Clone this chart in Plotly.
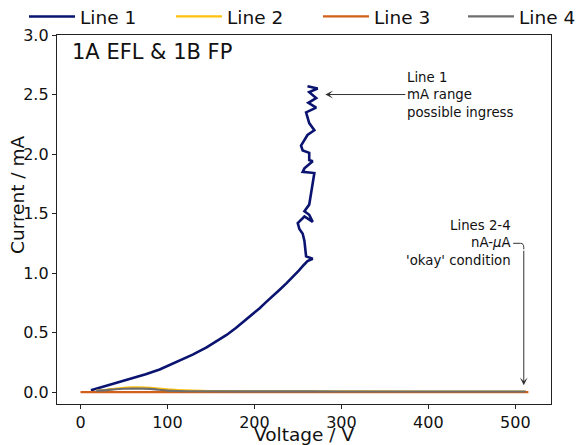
import plotly.graph_objects as go

# ---- data ----
line1_v = [12, 30, 53, 75, 91, 110, 129, 145, 156, 168, 179, 190, 198, 206, 214, 222, 229, 237, 244, 251, 257, 261,
           267, 259.4, 257.5, 255.5, 251.7, 249.8, 257.5, 267, 263, 257.5, 263, 265, 267, 268.9, 255.5,
           257.5, 267, 263, 263, 255.5, 253.6, 261, 268.9, 263, 259.4, 271, 262, 271, 263, 272.7, 261]
line1_i = [0.015, 0.052, 0.10, 0.15, 0.19, 0.25, 0.315, 0.375, 0.425, 0.48, 0.54, 0.605, 0.655, 0.705, 0.76, 0.81, 0.86, 0.915, 0.965, 1.02, 1.07, 1.10,
           1.12, 1.14, 1.27, 1.33, 1.37, 1.42, 1.475, 1.43, 1.49, 1.52, 1.575, 1.68, 1.77, 1.84, 1.85,
           1.88, 1.94, 1.95, 2.01, 2.03, 2.07, 2.16, 2.20, 2.26, 2.35, 2.39, 2.43, 2.47, 2.52, 2.55, 2.57]

line2_v = [18, 30, 45, 60, 75, 90, 105, 120, 140, 160, 250, 400, 512]
line2_i = [0.012, 0.02, 0.032, 0.039, 0.038, 0.03, 0.02, 0.014, 0.01, 0.008, 0.006, 0.005, 0.005]

line3_v = [0, 100, 200, 300, 400, 515]
line3_i = [0.0, 0.0, 0.0, 0.0, 0.0, 0.0]

line4_v = [18, 30, 40, 50, 60, 70, 80, 90, 100, 115, 130, 200, 300, 400, 512]
line4_i = [0.012, 0.016, 0.024, 0.028, 0.029, 0.029, 0.027, 0.02, 0.013, 0.009, 0.007, 0.006, 0.005, 0.005, 0.005]

x_ticks = [0, 100, 200, 300, 400, 500]
y_ticks = [0.0, 0.5, 1.0, 1.5, 2.0, 2.5, 3.0]

FONT = "DejaVu Sans"
C1, C2, C3, C4 = "#0a1470", "#ffc20e", "#d2601a", "#6e6e6e"

fig = go.Figure()
fig.add_trace(go.Scatter(x=line1_v, y=line1_i, mode="lines", name="Line 1", legend="legend",
                         line=dict(color=C1, width=2.6)))
fig.add_trace(go.Scatter(x=line2_v, y=line2_i, mode="lines", name="Line 2", legend="legend2",
                         line=dict(color=C2, width=2.2, shape="spline")))
fig.add_trace(go.Scatter(x=line3_v, y=line3_i, mode="lines", name="Line 3", legend="legend3",
                         line=dict(color=C3, width=2.2)))
fig.add_trace(go.Scatter(x=line4_v, y=line4_i, mode="lines", name="Line 4", legend="legend4",
                         line=dict(color=C4, width=2.2, shape="spline")))

axis_common = dict(showgrid=False, zeroline=False, showline=True, mirror=True, linecolor="#222222", linewidth=1.3,
                   ticks="outside", ticklen=4, tickwidth=1.2, tickcolor="#222222", automargin=False,
                   tickfont=dict(family=FONT, size=16, color="#111111"))

W, H = 580, 445
L, T = 57, 35
PW, PH = 494, 369
R, B = W - L - PW, H - T - PH


def leg(px_left):
    return dict(orientation="h", xref="container", x=px_left / W, xanchor="left", y=1.049, yanchor="middle",
                font=dict(family=FONT, size=18.5, color="#111111"), itemwidth=46,
                bgcolor="rgba(0,0,0,0)", borderwidth=0, itemclick=False, itemdoubleclick=False)


fig.update_layout(
    width=W, height=H,
    margin=dict(l=L, r=R, t=T, b=B, autoexpand=False),
    paper_bgcolor="white", plot_bgcolor="white",
    font=dict(family=FONT, color="#111111"),
    showlegend=True,
    legend=leg(24), legend2=leg(171), legend3=leg(318), legend4=leg(463),
    xaxis=dict(range=[-27, 541], tickvals=x_ticks, ticktext=[str(v) for v in x_ticks], **axis_common),
    yaxis=dict(range=[-0.1, 3.0], tickvals=y_ticks, ticktext=["%.1f" % v for v in y_ticks], **axis_common),
)

# axis titles
fig.add_annotation(xref="paper", yref="paper", x=0.5, y=0, yshift=-30, xanchor="center", yanchor="middle",
                   text="Voltage / V", showarrow=False, font=dict(family=FONT, size=18.5, color="#111111"))
fig.add_annotation(xref="paper", yref="paper", x=0, xshift=-40, y=1 - (195 - T) / PH, xanchor="center",
                   yanchor="middle", textangle=-90,
                   text="Current / mA", showarrow=False, font=dict(family=FONT, size=18.5, color="#111111"))

fig.add_annotation(xref="paper", yref="paper", x=0.026, y=0.954, xanchor="left", yanchor="middle",
                   text="1A EFL &amp; 1B FP", showarrow=False, font=dict(family=FONT, size=21, color="#111111"))

fig.add_annotation(x=281.5, y=2.5, xref="x", yref="y", axref="x", ayref="y", ax=373.5, ay=2.5,
                   xanchor="left", yanchor="middle", align="left",
                   text="Line 1<br>mA range<br>possible ingress", showarrow=True,
                   arrowhead=3, arrowsize=1.3, arrowwidth=1, arrowcolor="#333333",
                   font=dict(family=FONT, size=13.3, color="#111111"))

fig.add_annotation(x=497, y=1.25, xref="x", yref="y", xanchor="right", yanchor="middle", align="right",
                   text="Lines 2-4<br>nA-<i>μ</i>A<br>'okay' condition", showarrow=False,
                   font=dict(family=FONT, size=13.3, color="#111111"))

fig.add_shape(type="path", xref="x", yref="y",
              path="M 497.5,1.25 L 506,1.25 Q 509.7,1.25 509.7,1.215 L 509.7,1.2",
              line=dict(color="#333333", width=1))
fig.add_annotation(x=509.7, y=0.058, xref="x", yref="y", axref="x", ayref="y", ax=509.7, ay=1.2,
                   text="", showarrow=True, arrowhead=3, arrowsize=1.3, arrowwidth=1, arrowcolor="#333333")

fig.write_html("out.html", config={"displayModeBar": False},
               post_script="document.body.style.margin='0px'; document.body.style.overflow='hidden';")
